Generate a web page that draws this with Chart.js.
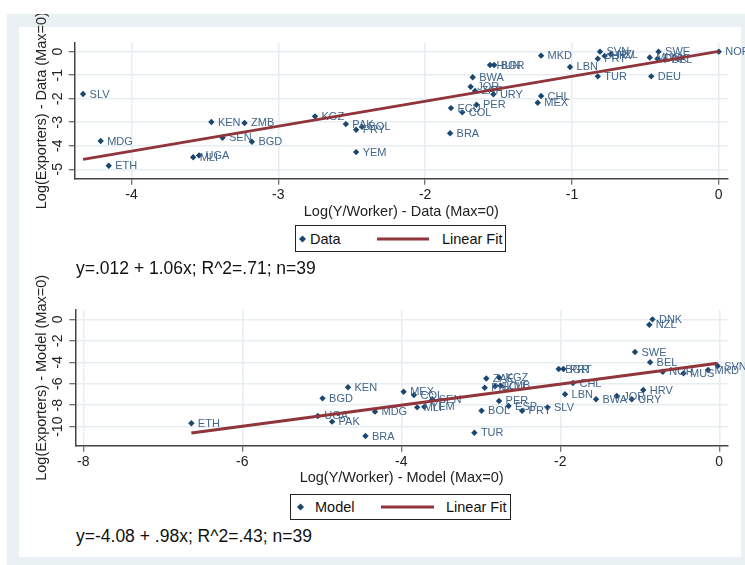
<!DOCTYPE html>
<html>
<head>
<meta charset="utf-8">
<script src="https://cdn.jsdelivr.net/npm/chart.js@4/dist/chart.umd.min.js"></script>
<style>
  body { margin: 0; width: 745px; height: 565px; overflow: hidden; position: relative; background: #fff;
         font-family: "Liberation Sans", Arial, sans-serif; color: #111; }
  .frame { position: absolute; left: 7px; top: 14px; width: 738px; height: 551px; background: #eaf1f3; }
  .panel { position: absolute; left: 19px; top: 27px; width: 722px; height: 530px; background: #fff; }
  canvas { position: absolute; left: 0; }
  .legend { position: absolute; border: 1px solid #222; background: #fff; box-sizing: border-box; font-size: 14.5px; }
  .legend span { position: absolute; top: 50%; transform: translateY(-50%); white-space: nowrap; }
  .legend .dot { width: 5px; height: 5px; background: #1a476f; transform: translateY(-50%) rotate(45deg); }
  .legend .fit { height: 3px; background: #90353b; }
  .eq { position: absolute; left: 76px; font-size: 17.5px; white-space: nowrap; transform: translateY(-50%); }
</style>
</head>
<body>
<div class="frame"></div>
<div class="panel"></div>

<canvas id="dataChart" width="745" height="216" style="top:14px"></canvas>
<canvas id="modelChart" width="745" height="216" style="top:274px"></canvas>

<div class="legend" style="left:295px; top:225px; width:211px; height:27px">
  <span class="dot" style="left:4px"></span><span style="left:14px">Data</span>
  <span class="fit" style="left:81px; width:52px"></span><span style="left:146px">Linear Fit</span>
</div>
<div class="eq" id="dataEq" style="top:268px"></div>

<div class="legend" style="left:290px; top:494px; width:221px; height:26px">
  <span class="dot" style="left:7px"></span><span style="left:24px">Model</span>
  <span class="fit" style="left:90px; width:53px"></span><span style="left:155px">Linear Fit</span>
</div>
<div class="eq" id="modelEq" style="top:536px"></div>

<script>
// Log exporters vs log output per worker, by country (both normalised so max = 0)
const dataLabels = ['SLV', 'MDG', 'ETH', 'MLI', 'UGA', 'KEN', 'ZMB', 'SEN', 'BGD', 'KGZ',
  'PAK', 'PRY', 'BOL', 'YEM', 'BRA', 'ECU', 'COL', 'PER', 'ZAF', 'URY',
  'JOR', 'BWA', 'HUN', 'BGR', 'MKD', 'LBN', 'CHL', 'MEX', 'TUR', 'SVN',
  'PRT', 'HRV', 'NZL', 'SWE', 'MUS', 'DNK', 'BEL', 'DEU', 'NOR'];
const dataX = [-4.33, -4.21, -4.155, -3.58, -3.54, -3.456, -3.23, -3.38, -3.18, -2.75,
  -2.54, -2.47, -2.43, -2.47, -1.83, -1.824, -1.747, -1.65, -1.66, -1.535,
  -1.69, -1.676, -1.558, -1.53, -1.21, -1.013, -1.21, -1.233, -0.824, -0.809,
  -0.824, -0.777, -0.736, -0.41, -0.47, -0.417, -0.366, -0.46, 0];
const dataY = [-1.80, -3.80, -4.85, -4.49, -4.41, -2.99, -3.03, -3.66, -3.83, -2.75,
  -3.08, -3.32, -3.19, -4.27, -3.47, -2.40, -2.58, -2.26, -1.67, -1.81,
  -1.49, -1.09, -0.57, -0.57, -0.17, -0.65, -1.885, -2.17, -1.05, 0.0,
  -0.30, -0.18, -0.11, 0.0, -0.25, -0.30, -0.35, -1.05, 0];

const modelLabels = ['ETH', 'UGA', 'PAK', 'BGD', 'KEN', 'BRA', 'MDG', 'MEX', 'COL', 'SEN',
  'MLI', 'YEM', 'TUR', 'BOL', 'PER', 'ESP', 'PRY', 'SLV', 'ZAF', 'KGZ',
  'PHL', 'ECU', 'ZMB', 'BGR', 'PRT', 'CHL', 'LBN', 'BWA', 'JOR', 'URY',
  'HRV', 'SWE', 'BEL', 'DNK', 'NZL', 'NOR', 'MUS', 'MKD', 'SVN'];
const modelX = [-6.64, -5.05, -4.87, -4.99, -4.67, -4.45, -4.33, -3.97, -3.84, -3.61,
  -3.80, -3.71, -3.08, -2.99, -2.77, -2.65, -2.48, -2.16, -2.93, -2.77,
  -2.95, -2.82, -2.75, -2.02, -1.96, -1.84, -1.94, -1.55, -1.29, -1.10,
  -0.956, -1.06, -0.87, -0.84, -0.88, -0.71, -0.45, -0.14, -0.02];
const modelY = [-9.68, -9.0, -9.53, -7.36, -6.33, -10.87, -8.6, -6.74, -7.05, -7.45,
  -8.2, -8.15, -10.56, -8.51, -7.6, -8.07, -8.51, -8.2, -5.51, -5.42,
  -6.37, -6.24, -6.18, -4.63, -4.63, -5.93, -6.98, -7.45, -7.14, -7.45,
  -6.58, -3.04, -4.0, 0.0, -0.5, -4.88, -5.03, -4.72, -4.35];

// linear fit: [intercept, slope] and R^2
const dataFit = [0.012, 1.06];
const modelFit = [-4.08, 0.98];
const fitR2 = [0.71, 0.43];

const FONT = '"Liberation Sans", Arial, sans-serif';
const NAVY = '#1a476f';
const MAROON = '#90353b';
const GRID = '#e6eef1';
Chart.defaults.font.family = FONT;
Chart.defaults.color = '#222';

// country codes to the right of each marker
const pointLabels = {
  id: 'pointLabels',
  afterDatasetDraw(chart, args) {
    if (args.index !== 1) return;
    const names = chart.data.datasets[1].names;
    const ctx = chart.ctx;
    ctx.save();
    ctx.font = '11px ' + FONT;
    ctx.fillStyle = '#41658a';
    ctx.textAlign = 'left';
    ctx.textBaseline = 'middle';
    args.meta.data.forEach((pt, i) => ctx.fillText(names[i], pt.x + 6.5, pt.y + 0.5));
    ctx.restore();
  }
};

// y tick labels stand rotated, Stata style
const sideTicks = {
  id: 'sideTicks',
  afterDraw(chart) {
    const sc = chart.scales.y;
    const ctx = chart.ctx;
    ctx.save();
    ctx.font = '14px ' + FONT;
    ctx.fillStyle = '#222';
    ctx.textAlign = 'center';
    ctx.textBaseline = 'middle';
    sc.ticks.forEach(t => {
      ctx.save();
      ctx.translate(58, sc.getPixelForValue(t.value));
      ctx.rotate(-Math.PI / 2);
      ctx.fillText(String(t.value), 0, 0);
      ctx.restore();
    });
    ctx.restore();
  }
};

function fmt(v) {
  return String(v).replace(/^(-?)0\./, '$1.');
}

function drawPanel(id, names, xs, ys, fit, r2, titles, lim, box) {
  const lo = Math.min(...xs), hi = Math.max(...xs);
  const pts = xs.map((x, i) => ({x: x, y: ys[i]}));
  const line = [lo, hi].map(x => ({x: x, y: fit[0] + fit[1] * x}));

  new Chart(document.getElementById(id), {
    type: 'scatter',
    data: {
      datasets: [{
        data: line,
        showLine: true,
        borderColor: MAROON,
        borderWidth: 3,
        pointRadius: 0
      }, {
        data: pts,
        names: names,
        pointStyle: 'rectRot',
        pointRadius: 3.2,
        backgroundColor: NAVY,
        borderColor: NAVY,
        borderWidth: 0
      }]
    },
    options: {
      responsive: false,
      animation: false,
      devicePixelRatio: 1,
      layout: {padding: {top: box.top, right: 17, left: 0, bottom: 0}},
      plugins: {legend: {display: false}, tooltip: {enabled: false}},
      scales: {
        x: {
          type: 'linear',
          min: lim.x[0], max: lim.x[1],
          ticks: {stepSize: lim.x[2], includeBounds: false, font: {size: 14}, padding: box.tickPad, maxRotation: 0},
          grid: {color: GRID, lineWidth: 1.5, tickColor: '#444', tickLength: 6, tickWidth: 1},
          border: {color: '#444', width: 1.5},
          title: {display: true, text: titles[0], font: {size: 14.5}, padding: {top: 0, bottom: box.xTitlePad}},
          afterFit(s) { s.height = box.xHeight; }
        },
        y: {
          type: 'linear',
          min: lim.y[0], max: lim.y[1],
          ticks: {stepSize: lim.y[2], includeBounds: false, color: 'rgba(0,0,0,0)'},
          grid: {color: GRID, lineWidth: 1.5, tickColor: '#444', tickLength: 6, tickWidth: 1},
          border: {color: '#444', width: 1.5},
          title: {display: true, text: titles[1], font: {size: 14.5}, padding: {top: 33.3, bottom: 0}},
          afterFit(s) { s.width = box.yWidth; }
        }
      }
    },
    plugins: [pointLabels, sideTicks]
  });

  return 'y=' + fmt(fit[0]) + ' + ' + fmt(fit[1]) + 'x; R^2=' + fmt(r2) + '; n=' + xs.length;
}

document.getElementById('dataEq').textContent = drawPanel('dataChart', dataLabels, dataX, dataY, dataFit, fitR2[0],
  ['Log(Y/Worker) - Data (Max=0)', 'Log(Exporters) - Data (Max=0)'],
  {x: [-4.387, 0.063, 1], y: [-5.4, 0.38, 1]},
  {top: 28.7, yWidth: 74.7, xHeight: 51.3, tickPad: 2, xTitlePad: 9.6});

document.getElementById('modelEq').textContent = drawPanel('modelChart', modelLabels, modelX, modelY, modelFit, fitR2[1],
  ['Log(Y/Worker) - Model (Max=0)', 'Log(Exporters) - Model (Max=0)'],
  {x: [-8.1, 0.11, 2], y: [-11.77, 0.87, 2]},
  {top: 36, yWidth: 75.3, xHeight: 44.3, tickPad: 1.6, xTitlePad: 3.3});
</script>
</body>
</html>
